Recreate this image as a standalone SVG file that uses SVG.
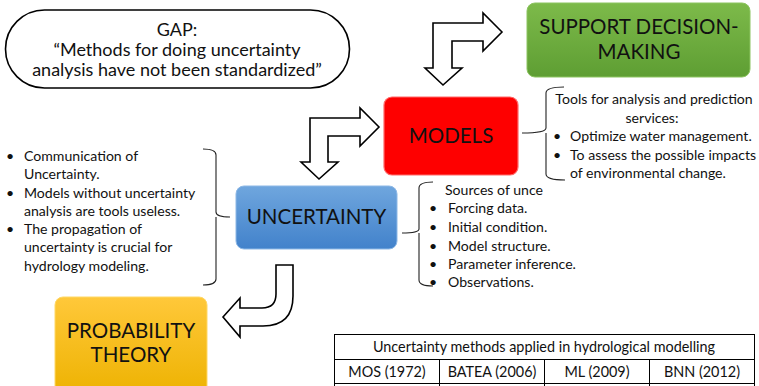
<svg xmlns="http://www.w3.org/2000/svg" width="759" height="386" viewBox="0 0 759 386">
<defs>
<linearGradient id="gGreen" x1="0" y1="0" x2="0" y2="1"><stop offset="0" stop-color="#7DBA4A"/><stop offset="1" stop-color="#5E9E33"/></linearGradient>
<linearGradient id="gBlue" x1="0" y1="0" x2="0" y2="1"><stop offset="0" stop-color="#6FA6DE"/><stop offset="1" stop-color="#4282CB"/></linearGradient>
<linearGradient id="gGold" x1="0" y1="0" x2="0" y2="1"><stop offset="0" stop-color="#FFC83A"/><stop offset="1" stop-color="#EDB200"/></linearGradient>
<style>
text{font-family:Lato,"Liberation Sans",sans-serif;fill:#111;}
.big{font-size:20.5px;text-anchor:middle;}
.body{font-size:14.1px;}
.gap{font-size:18px;text-anchor:middle;}
.tbl{font-size:14.4px;text-anchor:middle;}
.mid{text-anchor:middle;}
.arrow{fill:#fff;stroke:#000;stroke-width:1.6;stroke-linejoin:miter;}
.brace{fill:none;stroke:#222;stroke-width:1.1;}
.grid{stroke:#000;stroke-width:1;fill:none;}
</style>
</defs>

<g id="gap">
<rect x="5.5" y="10" width="344" height="78" rx="39" ry="39" fill="#fff" stroke="#000" stroke-width="1.6"/>
<text class="gap" x="177" y="36">GAP:</text>
<text class="gap" x="177" y="56">“Methods for doing uncertainty</text>
<text class="gap" x="177" y="76">analysis have not been standardized”</text>
</g>

<g id="support">
<rect x="527" y="3" width="223" height="74" rx="8" fill="url(#gGreen)" stroke="#8CC460" stroke-width="1"/>
<text class="big" x="639" y="34">SUPPORT DECISION-</text>
<text class="big" x="639" y="59">MAKING</text>
</g>

<g id="models">
<rect x="384" y="97" width="134" height="78" rx="8" fill="#FE0000" stroke="#FF6A6A" stroke-width="1.2"/>
<text class="big" x="451" y="143">MODELS</text>
</g>

<g id="uncertainty">
<rect x="236" y="186" width="161" height="63" rx="8" fill="url(#gBlue)" stroke="#8DB8E6" stroke-width="1"/>
<text class="big" x="316.5" y="224">UNCERTAINTY</text>
</g>

<g id="probability">
<rect x="55" y="297" width="152" height="100" rx="8" fill="url(#gGold)" stroke="#FFD866" stroke-width="1"/>
<text class="big" x="131" y="338">PROBABILITY</text>
<text class="big" x="131" y="362">THEORY</text>
</g>

<g id="notes-left">
<path class="brace" d="M203,149 Q216,149 216,155 V212 Q216,217 230,217 M216,217 Q216,222 216,224 V279 Q216,285 203,285"/>
<text class="body" x="6" y="161">•</text>
<text class="body" x="24" y="161">Communication of</text>
<text class="body" x="24" y="179">Uncertainty.</text>
<text class="body" x="6" y="198">•</text>
<text class="body" x="24" y="198">Models without uncertainty</text>
<text class="body" x="24" y="216">analysis are tools useless.</text>
<text class="body" x="6" y="234">•</text>
<text class="body" x="24" y="234">The propagation of</text>
<text class="body" x="24" y="252">uncertainty is crucial for</text>
<text class="body" x="24" y="271">hydrology modeling.</text>
</g>

<g id="notes-models">
<path class="brace" d="M564,87 Q546,87 546,93 V128 Q546,133 522,133 M546,133 Q546,138 546,140 V174 Q546,180 565,180"/>
<text class="body mid" x="654" y="104">Tools for analysis and prediction</text>
<text class="body mid" x="652" y="123">services:</text>
<text class="body" x="553" y="141">•</text>
<text class="body" x="570" y="141">Optimize water management.</text>
<text class="body" x="553" y="160">•</text>
<text class="body" x="570" y="160">To assess the possible impacts</text>
<text class="body" x="570" y="178">of environmental change.</text>
</g>

<g id="notes-uncertainty">
<path class="brace" d="M433,182 Q419,182 419,188 V229 Q419,233 402,233 M419,233 Q419,237 419,239 V280 Q419,286 433,286"/>
<text class="body" x="445" y="195">Sources of unce</text>
<text class="body" x="429" y="213">•</text>
<text class="body" x="448" y="213">Forcing data.</text>
<text class="body" x="429" y="232">•</text>
<text class="body" x="448" y="232">Initial condition.</text>
<text class="body" x="429" y="251">•</text>
<text class="body" x="448" y="251">Model structure.</text>
<text class="body" x="429" y="269">•</text>
<text class="body" x="448" y="269">Parameter inference.</text>
<text class="body" x="429" y="287">•</text>
<text class="body" x="448" y="287">Observations.</text>
</g>

<g id="table">
<rect class="grid" x="334.5" y="334.5" width="420" height="60"/>
<line class="grid" x1="334.5" y1="359.5" x2="754.5" y2="359.5"/>
<line class="grid" x1="334.5" y1="383.5" x2="754.5" y2="383.5"/>
<line class="grid" x1="439.5" y1="359.5" x2="439.5" y2="394"/>
<line class="grid" x1="544.5" y1="359.5" x2="544.5" y2="394"/>
<line class="grid" x1="649.5" y1="359.5" x2="649.5" y2="394"/>
<text class="tbl" x="544" y="352">Uncertainty methods applied in hydrological modelling</text>
<text class="tbl" x="387" y="377">MOS (1972)</text>
<text class="tbl" x="492" y="377">BATEA (2006)</text>
<text class="tbl" x="597" y="377">ML (2009)</text>
<text class="tbl" x="702" y="377">BNN (2012)</text>
</g>

<g id="connectors">
<path class="arrow" d="M502,32 L483,13 L483,23 L433,23 L433,68 L425,68 L443,85 L462,68 L452,68 L452,41 L483,41 L483,51 Z"/>
<path class="arrow" d="M379,127 L360,108 L360,118 L310,118 L310,162 L301,162 L319,179 L338,162 L328,162 L328,136 L360,136 L360,146 Z"/>
<path class="arrow" d="M276,265 L293,265 L293,296 Q293,326 263,326 L240,326 L240,337 L223,317 L240,298 L240,308 L262,308 Q276,308 276,294 Z"/>
</g>
</svg>
